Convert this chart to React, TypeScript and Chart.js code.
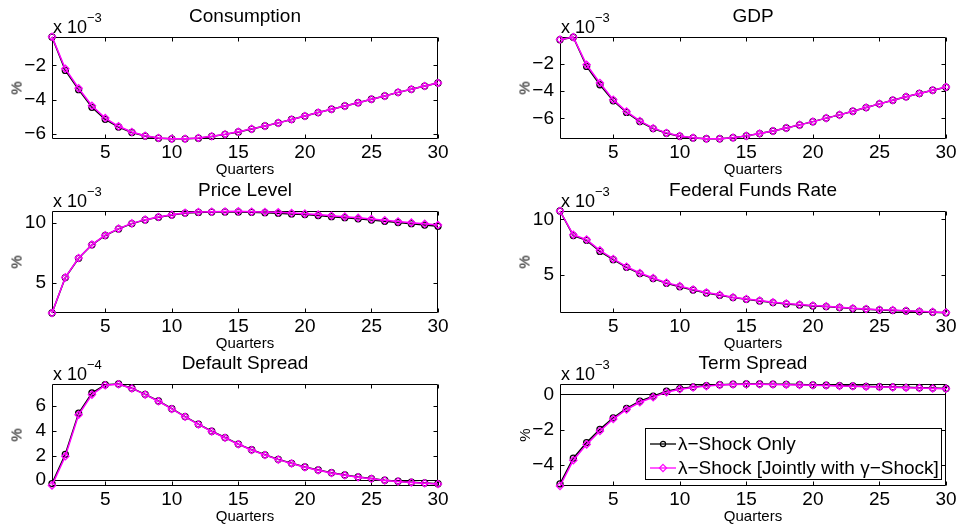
import React, { useEffect, useRef } from 'react';
import { Chart, registerables } from 'chart.js';

Chart.register(...registerables);

const FONT = '"Liberation Sans", Arial, Helvetica, sans-serif';

// ---------- data ----------
const quarters = [1, 2, 3, 4, 5, 6, 7, 8, 9, 10, 11, 12, 13, 14, 15, 16, 17, 18, 19, 20, 21, 22, 23, 24, 25, 26, 27, 28, 29, 30];
const xTicks = [5, 10, 15, 20, 25, 30];
const seriesLabels = ['\u03bb\u2212Shock Only', '\u03bb\u2212Shock [Jointly with \u03b3\u2212Shock]'];

const consumptionOnly = [-0.35, -2.3, -3.42, -4.45, -5.15, -5.6, -5.92, -6.13, -6.25, -6.29, -6.29, -6.25, -6.15, -6.03, -5.89, -5.72, -5.54, -5.36, -5.16, -4.96, -4.76, -4.56, -4.37, -4.18, -3.98, -3.79, -3.58, -3.4, -3.21, -3.03];
const consumptionJoint = [-0.33, -2.2, -3.34, -4.36, -5.08, -5.56, -5.89, -6.11, -6.24, -6.28, -6.28, -6.24, -6.14, -6.02, -5.88, -5.71, -5.54, -5.36, -5.16, -4.96, -4.76, -4.56, -4.37, -4.18, -3.98, -3.79, -3.58, -3.4, -3.21, -3.03];
const consumptionYTicks = [-6, -4, -2];

const gdpOnly = [-0.2, -0.02, -2.17, -3.52, -4.7, -5.56, -6.23, -6.75, -7.09, -7.31, -7.44, -7.5, -7.5, -7.42, -7.29, -7.12, -6.93, -6.71, -6.48, -6.24, -5.98, -5.74, -5.47, -5.2, -4.93, -4.66, -4.41, -4.16, -3.92, -3.7];
const gdpJoint = [-0.19, -0.01, -2.05, -3.39, -4.62, -5.5, -6.19, -6.72, -7.07, -7.3, -7.43, -7.5, -7.5, -7.42, -7.29, -7.12, -6.93, -6.71, -6.48, -6.24, -5.98, -5.74, -5.47, -5.2, -4.93, -4.66, -4.41, -4.16, -3.92, -3.69];
const gdpYTicks = [-6, -4, -2];

const priceOnly = [2.47, 5.42, 7.03, 8.15, 8.93, 9.48, 9.92, 10.23, 10.45, 10.63, 10.8, 10.85, 10.88, 10.89, 10.89, 10.86, 10.83, 10.79, 10.73, 10.67, 10.59, 10.5, 10.41, 10.32, 10.21, 10.11, 10.01, 9.91, 9.8, 9.7];
const priceJoint = [2.47, 5.44, 7.05, 8.17, 8.95, 9.5, 9.94, 10.25, 10.47, 10.66, 10.82, 10.88, 10.91, 10.93, 10.94, 10.91, 10.89, 10.86, 10.8, 10.75, 10.67, 10.58, 10.5, 10.4, 10.3, 10.2, 10.1, 10.0, 9.9, 9.8];
const priceYTicks = [5, 10];

const ffrOnly = [10.75, 8.53, 8.1, 7.1, 6.35, 5.66, 5.09, 4.64, 4.21, 3.91, 3.61, 3.34, 3.13, 2.92, 2.77, 2.62, 2.47, 2.35, 2.26, 2.17, 2.11, 2.02, 1.93, 1.87, 1.8, 1.76, 1.71, 1.66, 1.6, 1.55];
const ffrJoint = [10.75, 8.6, 8.17, 7.2, 6.42, 5.72, 5.15, 4.7, 4.27, 3.96, 3.65, 3.38, 3.17, 2.96, 2.8, 2.65, 2.5, 2.38, 2.29, 2.2, 2.14, 2.05, 1.96, 1.9, 1.83, 1.79, 1.74, 1.69, 1.63, 1.58];
const ffrYTicks = [5, 10];

const defaultOnly = [-0.27, 2.1, 5.43, 7.07, 7.74, 7.8, 7.46, 6.96, 6.42, 5.8, 5.16, 4.54, 3.97, 3.46, 2.93, 2.47, 2.06, 1.69, 1.37, 1.07, 0.83, 0.61, 0.42, 0.26, 0.13, 0.0, -0.08, -0.16, -0.22, -0.28];
const defaultJoint = [-0.42, 1.94, 5.3, 6.94, 7.7, 7.78, 7.44, 6.94, 6.4, 5.78, 5.14, 4.52, 3.95, 3.44, 2.91, 2.45, 2.04, 1.67, 1.35, 1.05, 0.81, 0.59, 0.4, 0.24, 0.11, -0.02, -0.1, -0.18, -0.24, -0.3];
const defaultYTicks = [0, 2, 4, 6];

const termOnly = [-5.06, -3.61, -2.73, -1.98, -1.33, -0.8, -0.39, -0.11, 0.17, 0.32, 0.41, 0.49, 0.54, 0.57, 0.58, 0.58, 0.57, 0.56, 0.55, 0.53, 0.51, 0.49, 0.47, 0.45, 0.43, 0.41, 0.39, 0.37, 0.35, 0.33];
const termJoint = [-5.18, -3.72, -2.83, -2.07, -1.4, -0.86, -0.45, -0.17, 0.12, 0.28, 0.38, 0.46, 0.52, 0.55, 0.56, 0.56, 0.55, 0.54, 0.53, 0.51, 0.49, 0.47, 0.45, 0.43, 0.41, 0.39, 0.37, 0.35, 0.33, 0.31];
const termYTicks = [-4, -2, 0];

// ---------- panel ----------
type PanelProps = {
  title: string;
  only: number[];
  joint: number[];
  yTicks: number[];
  yMin: number;
  yMax: number;
  exponent: string;
  x0: number;
  x1: number;
  y0: number;
  y1: number;
  zeroLine?: boolean;
  legend?: boolean;
};

const PAD_L = 52;
const PAD_T = 37;
const PAD_R = 18;
const PAD_B = 26;

function fmt(v: number) {
  return v < 0 ? '\u2212' + Math.abs(v) : String(v);
}

function Panel(p: PanelProps) {
  const ref = useRef<HTMLCanvasElement>(null);
  const w = p.x1 - p.x0 + PAD_L + PAD_R;
  const h = p.y1 - p.y0 + PAD_T + PAD_B;

  useEffect(() => {
    if (!ref.current) return;
    const frame = {
      id: 'frame',
      beforeDatasetsDraw(chart: any) {
        const { ctx, chartArea: a, scales } = chart;
        ctx.save();
        ctx.strokeStyle = '#000';
        ctx.lineWidth = 1;
        const L = Math.round(a.left) + 0.5;
        const R = Math.round(a.right) - 0.5;
        const T = Math.round(a.top) + 0.5;
        const B = Math.round(a.bottom) - 0.5;
        if (p.zeroLine) {
          const zy = Math.round(scales.y.getPixelForValue(0)) + 0.5;
          ctx.beginPath();
          ctx.moveTo(L, zy);
          ctx.lineTo(R, zy);
          ctx.stroke();
        }
        ctx.beginPath();
        ctx.rect(L, T, R - L, B - T);
        const tl = 4;
        xTicks.forEach((v) => {
          const px = Math.round(scales.x.getPixelForValue(v)) + 0.5;
          ctx.moveTo(px, B);
          ctx.lineTo(px, B - tl);
          ctx.moveTo(px, T);
          ctx.lineTo(px, T + tl);
        });
        p.yTicks.forEach((v) => {
          const py = Math.round(scales.y.getPixelForValue(v)) + 0.5;
          ctx.moveTo(L, py);
          ctx.lineTo(L + tl, py);
          ctx.moveTo(R, py);
          ctx.lineTo(R - tl, py);
        });
        ctx.stroke();
        ctx.restore();
      },
    };

    const chart = new Chart(ref.current, {
      type: 'line',
      data: {
        datasets: [
          {
            label: seriesLabels[1],
            data: quarters.map((q, i) => ({ x: q, y: p.joint[i] })),
            borderColor: '#ff00ff',
            borderWidth: 1.5,
            pointStyle: 'rectRot',
            pointRadius: 3.6,
            pointBorderWidth: 1.3,
            pointBorderColor: '#ff00ff',
            pointBackgroundColor: 'rgba(0,0,0,0)',
            tension: 0,
            clip: false as any,
          },
          {
            label: seriesLabels[0],
            data: quarters.map((q, i) => ({ x: q, y: p.only[i] })),
            borderColor: '#000000',
            borderWidth: 1.5,
            pointStyle: 'circle',
            pointRadius: 3,
            pointBorderWidth: 1.3,
            pointBorderColor: '#000000',
            pointBackgroundColor: 'rgba(0,0,0,0)',
            tension: 0,
            clip: false as any,
          },
        ],
      },
      options: {
        responsive: false,
        animation: false,
        devicePixelRatio: 1,
        layout: { padding: { left: 0, top: PAD_T, right: PAD_R, bottom: 0 } },
        plugins: {
          legend: { display: false },
          tooltip: { enabled: false },
          title: { display: false },
        },
        events: [],
        scales: {
          x: {
            type: 'linear',
            min: 1,
            max: 30,
            grid: { display: false, drawTicks: false },
            border: { display: false },
            afterFit: (s: any) => {
              s.height = PAD_B;
            },
            afterBuildTicks: (s: any) => {
              s.ticks = xTicks.map((v) => ({ value: v }));
            },
            ticks: {
              padding: 2,
              color: '#000',
              maxRotation: 0,
              autoSkip: false,
              font: { family: FONT, size: 19 },
              callback: (v: any) => fmt(Number(v)),
            },
          },
          y: {
            type: 'linear',
            min: p.yMin,
            max: p.yMax,
            grid: { display: false, drawTicks: false },
            border: { display: false },
            afterFit: (s: any) => {
              s.width = PAD_L;
            },
            afterBuildTicks: (s: any) => {
              s.ticks = p.yTicks.map((v) => ({ value: v }));
            },
            ticks: {
              padding: 6,
              color: '#000',
              autoSkip: false,
              font: { family: FONT, size: 19 },
              callback: (v: any) => fmt(Number(v)),
            },
          },
        },
      } as any,
      plugins: [frame],
    });
    return () => chart.destroy();
  }, []);

  const cx = (p.x0 + p.x1) / 2;
  const cy = (p.y0 + p.y1) / 2;
  const text: React.CSSProperties = {
    position: 'absolute',
    fontFamily: FONT,
    color: '#000',
    whiteSpace: 'nowrap',
  };

  return (
    <>
      <canvas
        ref={ref}
        width={w}
        height={h}
        style={{ position: 'absolute', left: p.x0 - PAD_L, top: p.y0 - PAD_T, width: w, height: h }}
      />
      <div
        style={{
          ...text,
          left: cx,
          top: p.y0 - 22,
          fontSize: 19,
          lineHeight: '19px',
          transform: 'translate(-50%, -50%)',
        }}
      >
        {p.title}
      </div>
      <div style={{ ...text, left: p.x0 + 1, top: p.y0 - 19, fontSize: 18, lineHeight: '18px' }}>
        x 10
        <span style={{ fontSize: 13, position: 'relative', top: -11 }}>{p.exponent}</span>
      </div>
      <div
        style={{
          ...text,
          left: p.x0 - 36,
          top: cy,
          fontSize: 15,
          lineHeight: '15px',
          transform: 'translate(-50%, -50%) rotate(-90deg)',
        }}
      >
        %
      </div>
      <div
        style={{
          ...text,
          left: cx,
          top: p.y1 + 29,
          fontSize: 15,
          lineHeight: '15px',
          transform: 'translate(-50%, -50%)',
        }}
      >
        Quarters
      </div>
      {p.legend && <Legend />}
    </>
  );
}

function Legend() {
  const row = (idx: number, top: number) => (
    <div style={{ position: 'absolute', left: 4, top, height: 22, display: 'flex', alignItems: 'center' }}>
      <svg width={27} height={12} style={{ display: 'block' }}>
        <line x1={0} y1={6} x2={26} y2={6} stroke={idx === 0 ? '#000' : '#ff00ff'} strokeWidth={1.3} />
        {idx === 0 ? (
          <circle cx={13} cy={6} r={2.6} fill="none" stroke="#000" strokeWidth={1.2} />
        ) : (
          <polygon points="13,2.4 16.6,6 13,9.6 9.4,6" fill="none" stroke="#ff00ff" strokeWidth={1.2} />
        )}
      </svg>
      <span style={{ fontFamily: FONT, fontSize: 19, lineHeight: '22px', color: '#000', marginLeft: 1 }}>
        {seriesLabels[idx]}
      </span>
    </div>
  );
  return (
    <div
      style={{
        position: 'absolute',
        left: 645,
        top: 428,
        width: 297,
        height: 52,
        border: '1px solid #000',
        background: '#fff',
        boxSizing: 'border-box',
      }}
    >
      {row(0, 4)}
      {row(1, 28)}
    </div>
  );
}

export default function App() {
  return (
    <div
      style={{
        position: 'absolute',
        left: 0,
        top: 0,
        width: 960,
        height: 527,
        background: '#fff',
        overflow: 'hidden',
      }}
    >
      <Panel title="Consumption" only={consumptionOnly} joint={consumptionJoint} yTicks={consumptionYTicks}
        yMin={-6.3} yMax={-0.35} exponent={'\u22123'} x0={52} x1={438} y0={37} y1={139} />
      <Panel title="GDP" only={gdpOnly} joint={gdpJoint} yTicks={gdpYTicks}
        yMin={-7.52} yMax={0} exponent={'\u22123'} x0={560} x1={946} y0={37} y1={139} />
      <Panel title="Price Level" only={priceOnly} joint={priceJoint} yTicks={priceYTicks}
        yMin={2.47} yMax={10.97} exponent={'\u22123'} x0={52} x1={438} y0={211} y1={313} />
      <Panel title="Federal Funds Rate" only={ffrOnly} joint={ffrJoint} yTicks={ffrYTicks}
        yMin={1.53} yMax={10.75} exponent={'\u22123'} x0={560} x1={946} y0={211} y1={313} />
      <Panel title="Default Spread" only={defaultOnly} joint={defaultJoint} yTicks={defaultYTicks}
        yMin={-0.47} yMax={7.8} exponent={'\u22124'} x0={52} x1={438} y0={384} y1={486} zeroLine />
      <Panel title="Term Spread" only={termOnly} joint={termJoint} yTicks={termYTicks}
        yMin={-5.18} yMax={0.58} exponent={'\u22123'} x0={560} x1={946} y0={384} y1={486} zeroLine legend />
    </div>
  );
}
